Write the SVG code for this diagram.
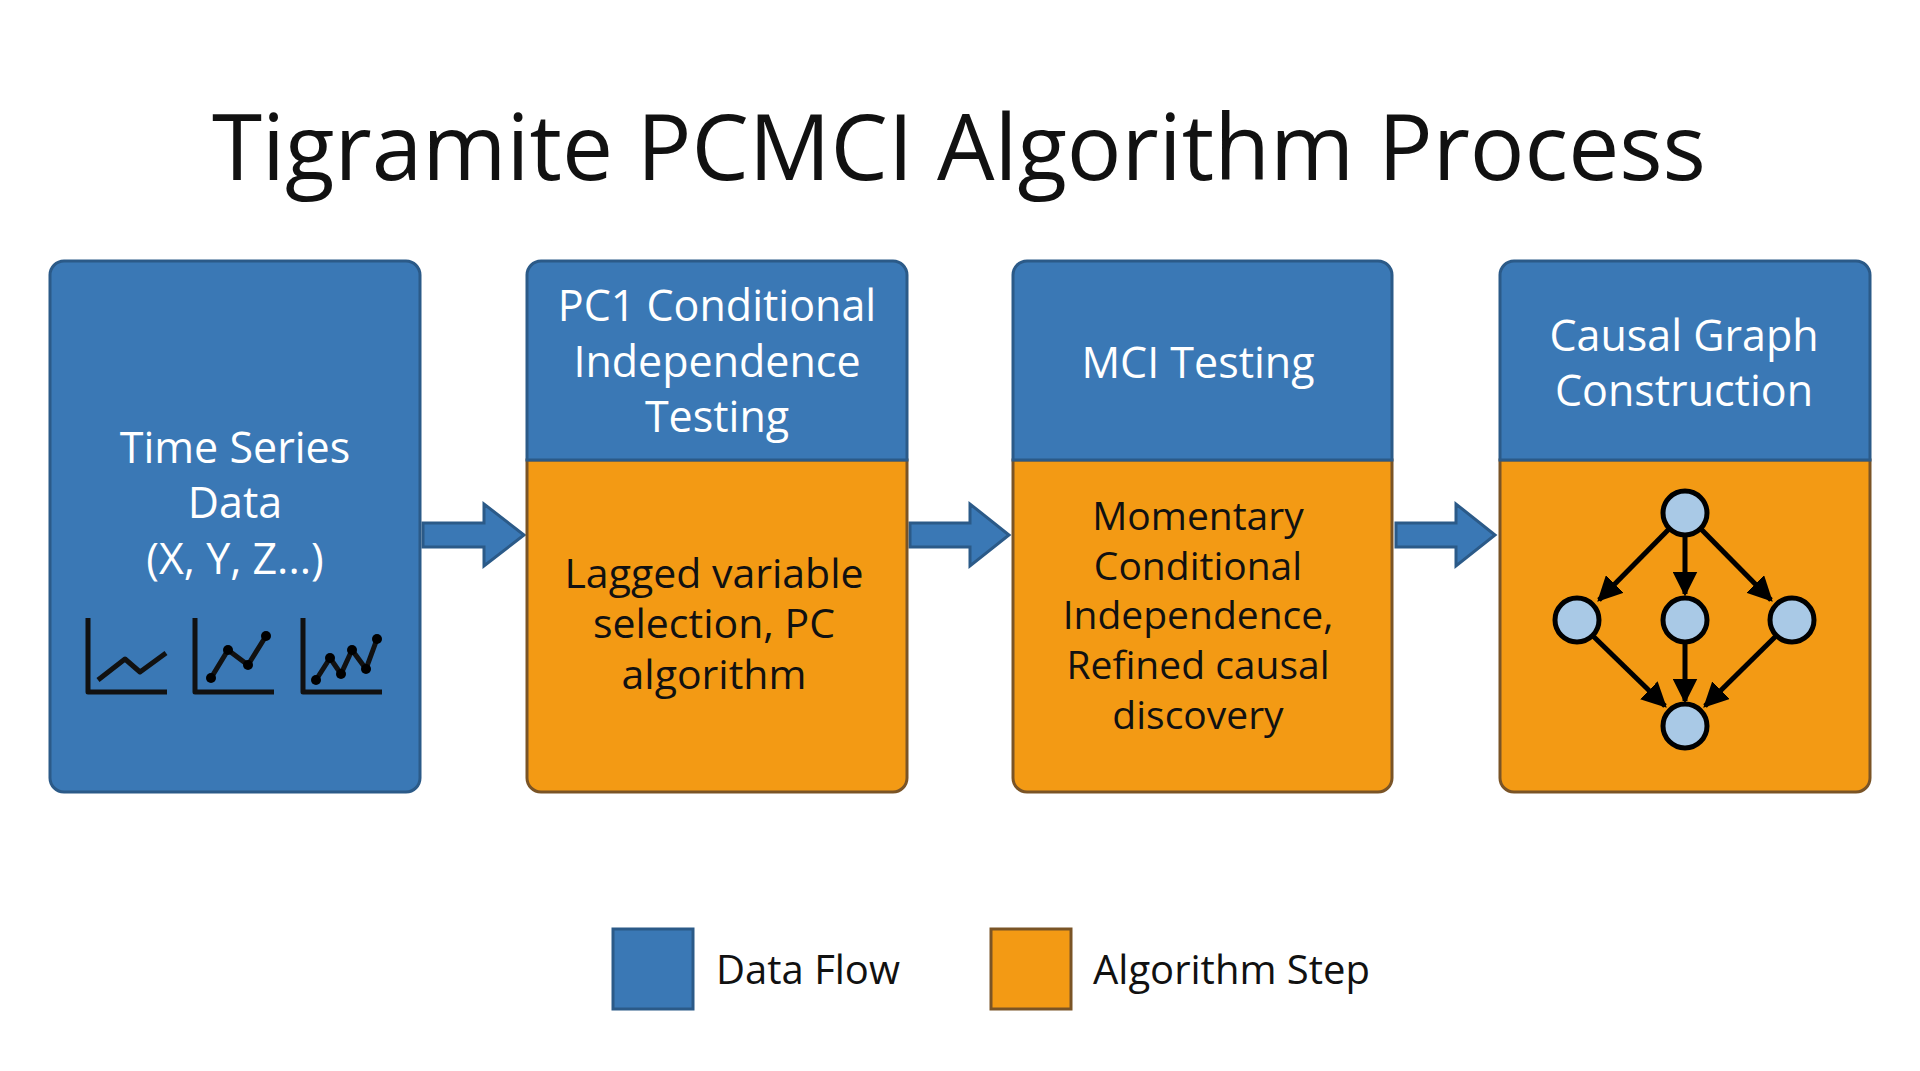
<svg xmlns="http://www.w3.org/2000/svg" width="1920" height="1071" viewBox="0 0 1920 1071">
<defs>
<style>
.t{font-family:"Open Sans","Noto Sans",sans-serif;text-anchor:middle;}
.w{fill:#fff;font-size:43px;}
.k{fill:#111;font-size:41px;}
.k2{fill:#111;font-size:39px;}
.blue{fill:#3a78b5;stroke:#2b5a88;stroke-width:3;}
.org{fill:#f39a14;stroke:#7a5426;stroke-width:3;}
.ic{fill:none;stroke:#111;stroke-width:5;stroke-linejoin:round;}
.gn{fill:#a9c9e6;stroke:#000;stroke-width:5;}
.ge{stroke:#000;stroke-width:5;marker-end:url(#ah);}
.fa{fill:#3a78b5;stroke:#2b5a88;stroke-width:3;}
</style>
<marker id="ah" viewBox="0 0 10 10" refX="9" refY="5" markerWidth="5" markerHeight="5" orient="auto" markerUnits="strokeWidth"><path d="M0,0 L10,5 L0,10 z" fill="#000"/></marker>
</defs>
<rect width="1920" height="1071" fill="#fff"/>
<text class="t" x="959" y="180" font-size="91" fill="#111">Tigramite PCMCI Algorithm Process</text>

<g id="connectors">
<path class="fa" d="M423,523 H484 V504 L524,535 L484,566 V547 H423 Z"/>
<path class="fa" d="M910,523 H970 V504 L1009,535 L970,566 V547 H910 Z"/>
<path class="fa" d="M1396,523 H1456 V504 L1495,535 L1456,566 V547 H1396 Z"/>
</g>

<g id="n1">
<rect class="blue" x="50" y="261" width="370" height="531" rx="14"/>
<text class="t w" x="235" y="463">Time Series</text>
<text class="t w" x="235" y="518">Data</text>
<text class="t w" x="235" y="574">(X, Y, Z...)</text>
<path class="ic" d="M88,618 V692 H167 M98,680 L125,659 L140,672 L166,653"/>
<path class="ic" d="M195,618 V692 H274 M211,678 L228,650 L248,665 L266,636"/>
<circle cx="211" cy="678" r="5"/><circle cx="228" cy="650" r="5"/><circle cx="248" cy="665" r="5"/><circle cx="266" cy="636" r="5"/>
<path class="ic" d="M303,618 V692 H382 M316,680 L330,658 L341,674 L352,650 L366,669 L377,639"/>
<circle cx="316" cy="680" r="5"/><circle cx="330" cy="658" r="5"/><circle cx="341" cy="674" r="5"/><circle cx="352" cy="650" r="5"/><circle cx="366" cy="669" r="5"/><circle cx="377" cy="639" r="5"/>
</g>

<g id="n2">
<path class="org" d="M527,460 H907 V778 a14,14 0 0 1 -14,14 H541 a14,14 0 0 1 -14,-14 Z"/>
<path class="blue" d="M527,460 V275 a14,14 0 0 1 14,-14 H893 a14,14 0 0 1 14,14 V460 Z"/>
<text class="t w" x="717" y="321">PC1 Conditional</text>
<text class="t w" x="717" y="377">Independence</text>
<text class="t w" x="717" y="432">Testing</text>
<text class="t k" x="714" y="588">Lagged variable</text>
<text class="t k" x="714" y="638">selection, PC</text>
<text class="t k" x="714" y="689">algorithm</text>
</g>

<g id="n3">
<path class="org" d="M1013,460 H1392 V778 a14,14 0 0 1 -14,14 H1027 a14,14 0 0 1 -14,-14 Z"/>
<path class="blue" d="M1013,460 V275 a14,14 0 0 1 14,-14 H1378 a14,14 0 0 1 14,14 V460 Z"/>
<text class="t w" x="1198" y="378">MCI Testing</text>
<text class="t k2" x="1198" y="530">Momentary</text>
<text class="t k2" x="1198" y="580">Conditional</text>
<text class="t k2" x="1198" y="629">Independence,</text>
<text class="t k2" x="1198" y="679">Refined causal</text>
<text class="t k2" x="1198" y="729">discovery</text>
</g>

<g id="n4">
<path class="org" d="M1500,460 H1870 V778 a14,14 0 0 1 -14,14 H1514 a14,14 0 0 1 -14,-14 Z"/>
<path class="blue" d="M1500,460 V275 a14,14 0 0 1 14,-14 H1856 a14,14 0 0 1 14,14 V460 Z"/>
<text class="t w" x="1684" y="351">Causal Graph</text>
<text class="t w" x="1684" y="406">Construction</text>
<line class="ge" x1="1670" y1="528" x2="1599" y2="600"/>
<line class="ge" x1="1685" y1="536" x2="1685" y2="594"/>
<line class="ge" x1="1700" y1="528" x2="1771" y2="600"/>
<line class="ge" x1="1593" y1="636" x2="1665" y2="706"/>
<line class="ge" x1="1685" y1="643" x2="1685" y2="701"/>
<line class="ge" x1="1776" y1="636" x2="1705" y2="706"/>
<circle class="gn" cx="1685" cy="513" r="22"/>
<circle class="gn" cx="1577" cy="620" r="22"/>
<circle class="gn" cx="1685" cy="620" r="22"/>
<circle class="gn" cx="1792" cy="620" r="22"/>
<circle class="gn" cx="1685" cy="726" r="22"/>
</g>

<g id="legend">
<rect x="613" y="929" width="80" height="80" fill="#3a78b5" stroke="#2b5a88" stroke-width="3"/>
<text class="t" x="716" y="984" font-size="40" fill="#111" style="text-anchor:start">Data Flow</text>
<rect x="991" y="929" width="80" height="80" fill="#f39a14" stroke="#7a5426" stroke-width="3"/>
<text class="t" x="1093" y="984" font-size="40" fill="#111" style="text-anchor:start">Algorithm Step</text>
</g>
</svg>
